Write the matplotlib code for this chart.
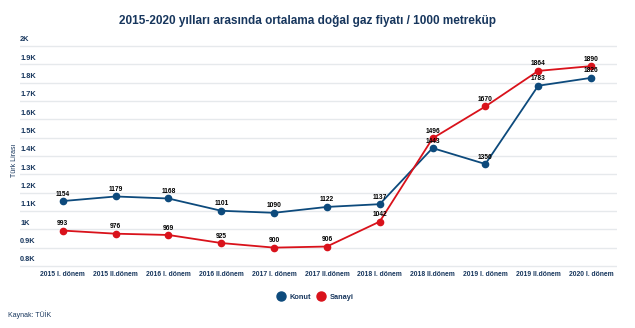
import matplotlib
matplotlib.use("Agg")
import matplotlib.pyplot as plt
import matplotlib.transforms as mtransforms
import numpy as np

categories = ["2015 I. dönem", "2015 II.dönem", "2016 I. dönem", "2016 II.dönem",
              "2017 I. dönem", "2017 II.dönem", "2018 I. dönem", "2018 II.dönem",
              "2019 I. dönem", "2019 II.dönem", "2020 I. dönem"]
konut = [1154, 1179, 1168, 1101, 1090, 1122, 1137, 1443, 1356, 1783, 1826]
sanayi = [993, 976, 969, 925, 900, 906, 1042, 1496, 1670, 1864, 1890]
yticks = [800, 900, 1000, 1100, 1200, 1300, 1400, 1500, 1600, 1700, 1800, 1900, 2000]

NAVY = "#17365d"
BLUE = "#0d4a7c"
RED = "#d9121b"

plt.rcParams['font.family'] = ['Liberation Sans', 'DejaVu Sans']

fig = plt.figure(figsize=(6.35, 3.28), dpi=100)
ax = fig.add_axes([0.0315, 0.183, 0.94, 0.683])

x = np.arange(len(categories))
ax.plot(x, konut, color=BLUE, lw=1.3, marker='o', ms=4.5, zorder=3)
ax.plot(x, sanayi, color=RED, lw=1.3, marker='o', ms=4.5, zorder=3)

for xi, v in zip(x, konut):
    ax.annotate(str(v), (xi, v), xytext=(0, 2.5), textcoords='offset points',
                ha='center', va='bottom', fontsize=4.8, fontweight='bold', color='black', zorder=4)
for xi, v in zip(x, sanayi):
    ax.annotate(str(v), (xi, v), xytext=(0, 2.5), textcoords='offset points',
                ha='center', va='bottom', fontsize=4.8, fontweight='bold', color='black', zorder=4)

ax.set_xlim(-0.81, 10.49)
ax.set_ylim(789, 2011)
ax.set_yticks(yticks)
ax.set_yticklabels([])
ax.tick_params(axis='y', length=0)
ax.grid(axis='y', color='#e6e9ec', lw=1)
ax.set_axisbelow(True)

trans = mtransforms.blended_transform_factory(ax.transAxes, ax.transData)
for t in yticks:
    lab = "{:g}K".format(t / 1000)
    ax.text(0.0, t + 14, lab, transform=trans, ha='left', va='bottom',
            fontsize=5.3, fontweight='bold', color=NAVY)

ax.set_xticks(x)
ax.set_xticklabels(categories, fontsize=4.9, fontweight='bold', color=NAVY)
ax.tick_params(axis='x', length=0, pad=2.5)

for s in ax.spines.values():
    s.set_visible(False)

fig.text(14 / 635, 1 - 160 / 328, "Türk Lirası", rotation=90, ha='center', va='center',
         fontsize=5, color=NAVY)

fig.text(0.485, 1 - 21 / 328, "2015-2020 yılları arasında ortalama doğal gaz fiyatı / 1000 metreküp",
         ha='center', va='center', fontsize=8.5, fontweight='bold', color=NAVY)

h1, = ax.plot([], [], 'o', color=BLUE, ms=6.5)
h2, = ax.plot([], [], 'o', color=RED, ms=6.5)
fig.legend([h1, h2], ["Konut", "Sanayi"], loc='center', bbox_to_anchor=(0.497, 1 - 297 / 328),
           ncol=2, frameon=False, prop={'size': 5.3, 'weight': 'bold'}, labelcolor=NAVY,
           handletextpad=0.6, columnspacing=0.9, handlelength=1.0)

fig.text(8 / 635, 1 - 315 / 328, "Kaynak: TÜİK", ha='left', va='center', fontsize=5, color=NAVY)

fig.savefig("out.png", dpi=100)
